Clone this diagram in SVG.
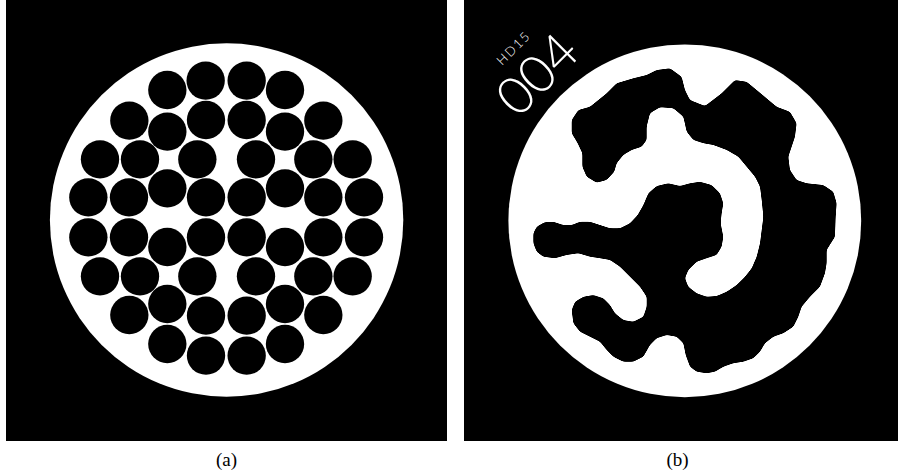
<svg xmlns="http://www.w3.org/2000/svg" width="898" height="475" viewBox="0 0 898 475">
<style>
.bg{fill:#000}
.disc{fill:#fff}
.cell{fill:#000}
.cap{font-family:"Liberation Serif","Times New Roman",serif;font-size:19px;fill:#000;text-anchor:middle}
.lbl{font-family:Lato,Inter,"Open Sans",sans-serif;font-weight:300;fill:#fff}
</style>
<defs>
<filter id="smooth" x="-5%" y="-5%" width="110%" height="110%">
<feGaussianBlur in="SourceGraphic" stdDeviation="4.5"/>
<feComponentTransfer><feFuncA type="linear" slope="6" intercept="-2.5"/></feComponentTransfer>
</filter>
</defs>
<rect width="898" height="475" fill="#fff"/>
<g id="panel-a">
<rect class="bg" x="6" y="0" width="441" height="441"/>
<circle class="disc" cx="226.6" cy="220" r="176.7"/>
<g id="cells-a" transform="scale(0.333333)">
<circle class="cell" cx="617" cy="242" r="57.5"/><circle class="cell" cx="740" cy="242" r="57.5"/>
<circle class="cell" cx="502" cy="270" r="57.5"/><circle class="cell" cx="855" cy="270" r="57.5"/>
<circle class="cell" cx="388" cy="362" r="57.5"/><circle class="cell" cx="970" cy="362" r="57.5"/>
<circle class="cell" cx="502" cy="395" r="57.5"/><circle class="cell" cx="855" cy="395" r="57.5"/>
<circle class="cell" cx="618" cy="360" r="57.5"/><circle class="cell" cx="740" cy="360" r="57.5"/>
<circle class="cell" cx="300" cy="478" r="57.5"/><circle class="cell" cx="420" cy="478" r="57.5"/><circle class="cell" cx="592" cy="478" r="57.5"/><circle class="cell" cx="768" cy="478" r="57.5"/><circle class="cell" cx="940" cy="478" r="57.5"/><circle class="cell" cx="1058" cy="478" r="57.5"/>
<circle class="cell" cx="265" cy="592" r="57.5"/><circle class="cell" cx="387" cy="592" r="57.5"/><circle class="cell" cx="618" cy="592" r="57.5"/><circle class="cell" cx="740" cy="592" r="57.5"/><circle class="cell" cx="970" cy="592" r="57.5"/><circle class="cell" cx="1092" cy="592" r="57.5"/>
<circle class="cell" cx="502" cy="565" r="57.5"/><circle class="cell" cx="855" cy="565" r="57.5"/>
<circle class="cell" cx="265" cy="712" r="57.5"/><circle class="cell" cx="387" cy="712" r="57.5"/><circle class="cell" cx="618" cy="712" r="57.5"/><circle class="cell" cx="740" cy="712" r="57.5"/><circle class="cell" cx="970" cy="712" r="57.5"/><circle class="cell" cx="1092" cy="712" r="57.5"/>
<circle class="cell" cx="502" cy="741" r="57.5"/><circle class="cell" cx="855" cy="741" r="57.5"/>
<circle class="cell" cx="300" cy="829" r="57.5"/><circle class="cell" cx="420" cy="829" r="57.5"/><circle class="cell" cx="592" cy="829" r="57.5"/><circle class="cell" cx="768" cy="829" r="57.5"/><circle class="cell" cx="940" cy="829" r="57.5"/><circle class="cell" cx="1058" cy="829" r="57.5"/>
<circle class="cell" cx="388" cy="945" r="57.5"/><circle class="cell" cx="970" cy="945" r="57.5"/>
<circle class="cell" cx="502" cy="912" r="57.5"/><circle class="cell" cx="855" cy="912" r="57.5"/>
<circle class="cell" cx="618" cy="947" r="57.5"/><circle class="cell" cx="740" cy="947" r="57.5"/>
<circle class="cell" cx="502" cy="1032" r="57.5"/><circle class="cell" cx="855" cy="1032" r="57.5"/>
<circle class="cell" cx="618" cy="1067" r="57.5"/><circle class="cell" cx="740" cy="1067" r="57.5"/>
</g>
</g>
<g id="panel-b">
<rect class="bg" x="464" y="0" width="434" height="441"/>
<circle class="disc" cx="684.8" cy="220.8" r="176.4"/>
<g id="blob-b" transform="translate(455,0) scale(0.333333)" filter="url(#smooth)">
<polygon fill="#000" points="350,400 350,360 370,330 405,320 455,280 485,250 535,235 575,225 605,210 645,205 680,230 690,270 705,300 750,318 800,280 840,240 875,245 905,270 965,320 1005,335 1025,370 1020,410 1000,470 1005,510 1025,540 1055,550 1105,555 1135,575 1145,610 1142,650 1140,710 1115,750 1115,790 1110,820 1095,860 1065,890 1040,920 1030,950 1015,980 985,1000 955,1010 930,1030 915,1055 895,1075 865,1085 835,1090 805,1100 780,1115 755,1120 725,1115 705,1100 692,1065 685,1030 665,1010 635,1005 605,1015 585,1035 565,1070 535,1085 505,1085 475,1070 455,1050 435,1025 405,1010 375,995 355,970 350,930 360,905 385,890 415,885 445,895 465,915 480,940 505,960 535,965 565,950 575,920 575,890 555,860 525,830 495,800 465,780 435,775 405,770 370,760 335,765 300,775 265,770 245,755 235,730 235,700 245,680 268,667 295,665 325,675 350,675 375,665 405,665 435,675 465,685 495,685 525,670 548,645 565,615 580,580 605,558 640,550 675,558 705,550 735,545 770,555 795,580 805,610 800,640 797,670 805,710 800,740 785,765 755,775 725,785 700,810 690,835 700,860 725,880 755,890 785,888 815,875 845,855 870,830 890,805 905,770 915,730 920,690 925,650 920,600 915,560 900,530 875,500 850,470 815,450 775,435 745,430 715,420 695,395 685,350 655,325 615,322 585,340 575,380 575,420 560,440 530,450 505,465 485,490 478,515 455,540 425,548 395,530 382,500 382,460 368,430"/>
</g>
<text class="lbl" transform="translate(502,66) rotate(-45)" font-size="13" textLength="40">HD15</text>
<text class="lbl" transform="translate(518,119) rotate(-45)" font-size="52">004</text>
</g>
<g id="captions">
<text class="cap" x="226.6" y="466">(a)</text>
<text class="cap" x="677.5" y="466">(b)</text>
</g>
</svg>
